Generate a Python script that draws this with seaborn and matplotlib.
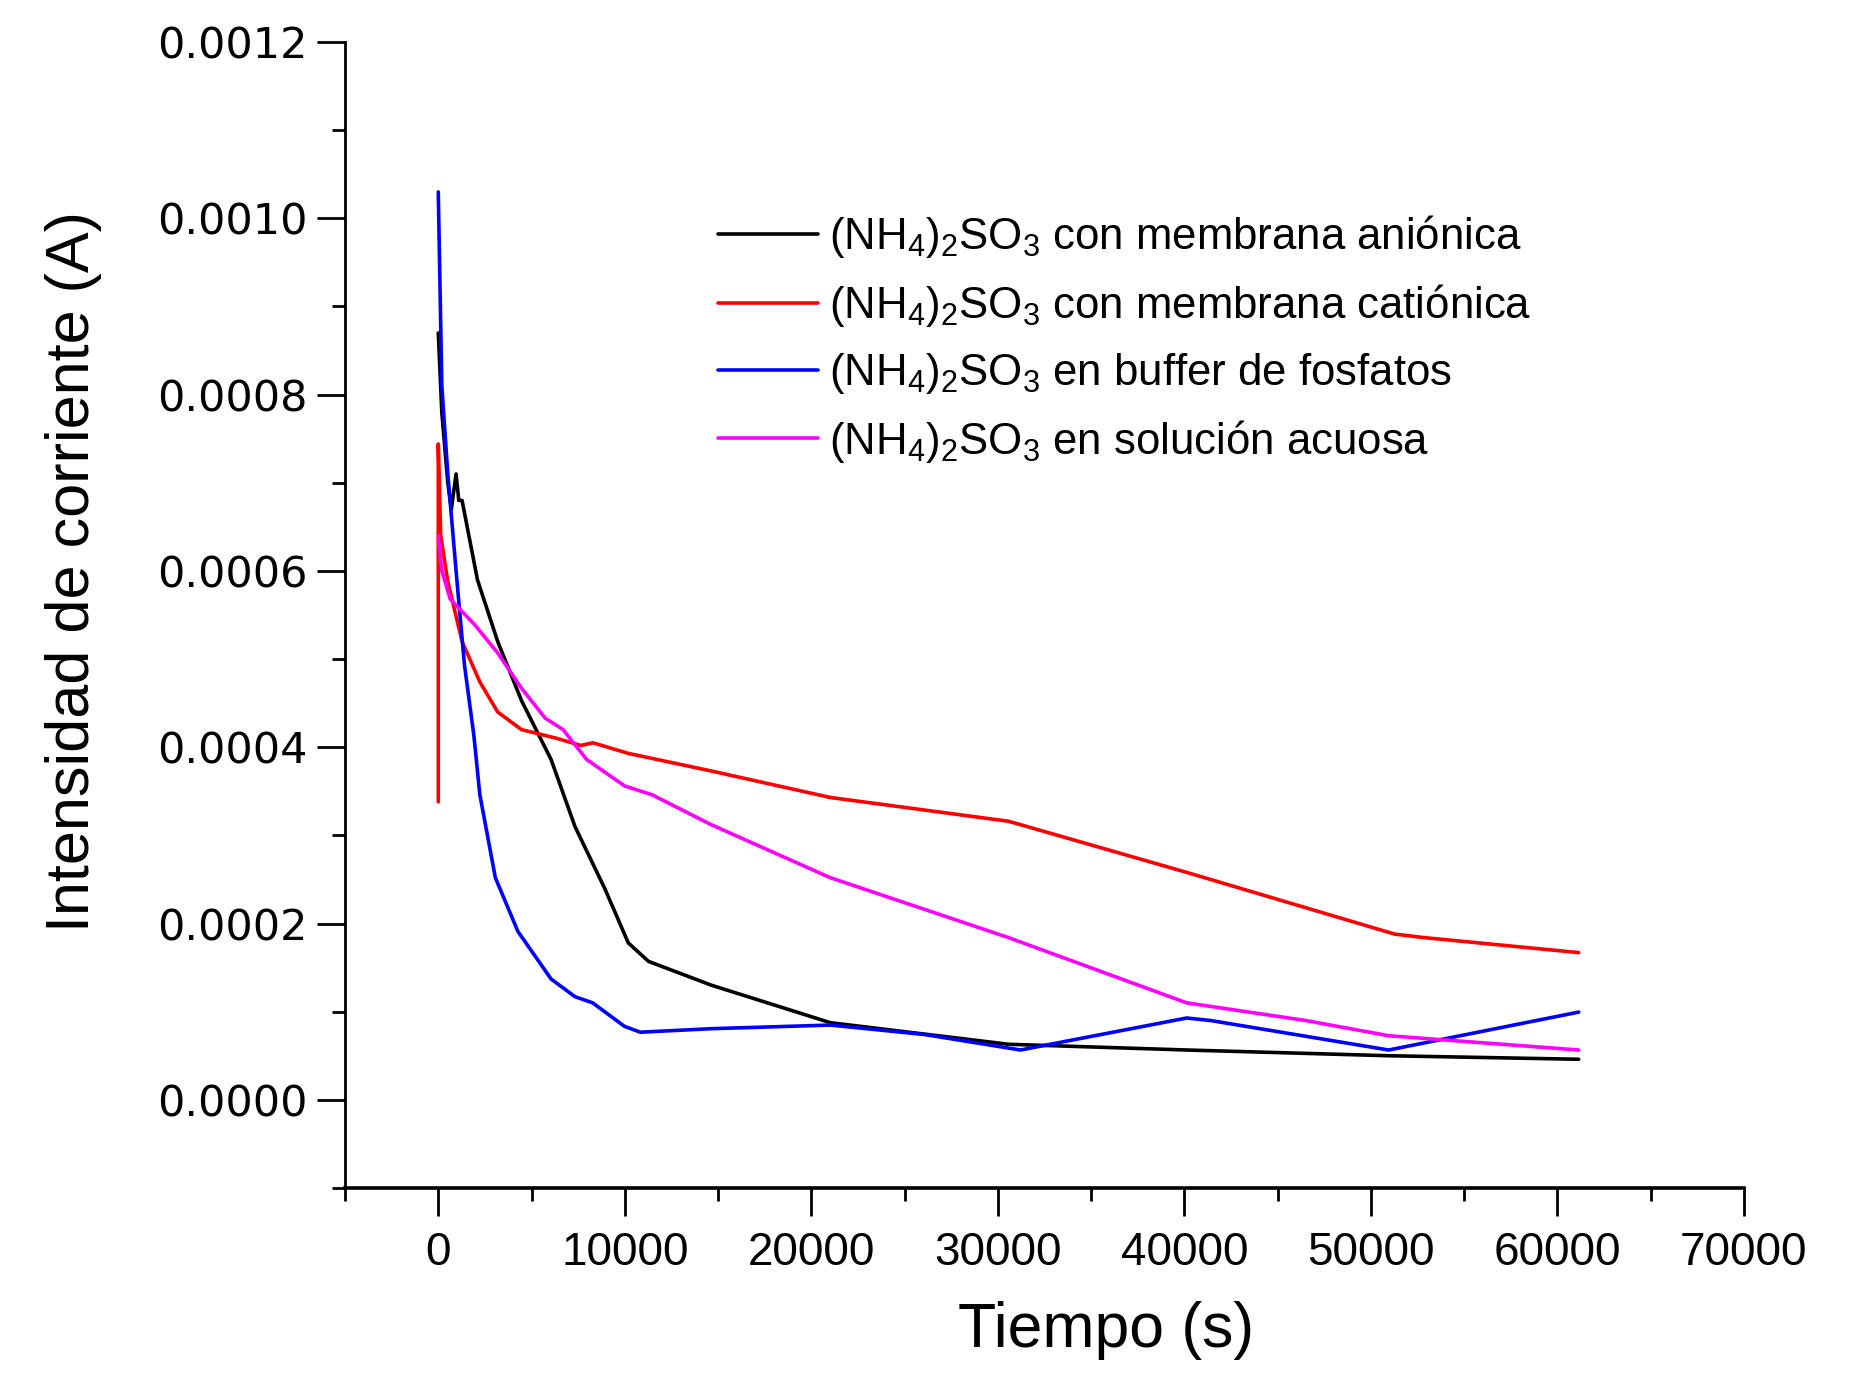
#import modules
import pandas as pd
import numpy as np
import seaborn as sns
import matplotlib.pyplot as plt
from matplotlib.ticker import MultipleLocator

sns.set_style("ticks")
plt.rcParams['font.family'] = ['Liberation Sans', 'DejaVu Sans']
plt.rcParams['mathtext.default'] = 'regular'
for key in ['text.color', 'axes.labelcolor', 'xtick.color', 'ytick.color', 'axes.edgecolor']:
    plt.rcParams[key] = 'black'

#Data (time in s, current in A)
t_anionica = [0, 190, 510, 700, 955, 1100, 1275, 2100, 3185, 4460, 6050, 7330, 8920,
              10190, 11275, 14650, 21020, 30580, 40130, 50960, 61150]
i_anionica = [0.00087, 0.00078, 0.00070, 0.00067, 0.00071, 0.00068, 0.00068, 0.00059, 0.00052,
              0.000453, 0.000386, 0.00031, 0.00024, 0.000178, 0.000157, 0.00013, 0.0000875,
              0.000063, 0.0000565, 0.00005, 0.000046]

t_cationica = [0, 0, 130, 510, 1275, 2230, 3185, 4460, 6370, 7640, 8300, 10190, 14650,
               21020, 30580, 40130, 46500, 51280, 52870, 61150]
i_cationica = [0.000338, 0.000744, 0.00064, 0.000588, 0.00052, 0.000474, 0.00044, 0.00042,
               0.00041, 0.000402, 0.000405, 0.000393, 0.000373, 0.000343, 0.000316, 0.000258,
               0.000218, 0.000188, 0.000184, 0.000167]

t_buffer = [0, 190, 510, 955, 1400, 1910, 2230, 3060, 4270, 6050, 7330, 8280, 9980, 10830,
            14650, 21020, 26100, 31220, 40130, 41400, 50960, 61150]
i_buffer = [0.00103, 0.00081, 0.00071, 0.0006, 0.000494, 0.000413, 0.000346, 0.000252,
            0.000191, 0.000137, 0.000117, 0.00011, 0.0000834, 0.0000767, 0.0000807, 0.0000848,
            0.000074, 0.0000565, 0.0000928, 0.00009, 0.0000565, 0.0000995]

t_acuosa = [0, 190, 640, 1275, 1910, 3185, 4460, 5730, 6690, 7960, 10000, 11470, 14650,
            21020, 30580, 40130, 46500, 50960, 61150]
i_acuosa = [0.00064, 0.0006, 0.000568, 0.000554, 0.00054, 0.000507, 0.000467, 0.000433,
            0.00042, 0.000386, 0.000356, 0.000346, 0.000312, 0.000252, 0.000184, 0.00011,
            0.00009, 0.0000727, 0.0000565]

labels = [r'(NH$_4$)$_2$SO$_3$ con membrana aniónica',
          r'(NH$_4$)$_2$SO$_3$ con membrana catiónica',
          r'(NH$_4$)$_2$SO$_3$ en buffer de fosfatos',
          r'(NH$_4$)$_2$SO$_3$ en solución acuosa']
colors = ['black', '#ff0000', '#0000ff', '#ff00ff']
series = [(t_anionica, i_anionica), (t_cationica, i_cationica),
          (t_buffer, i_buffer), (t_acuosa, i_acuosa)]

fig = plt.figure(figsize=(18.61, 13.74), dpi=100)
ax = fig.add_axes([0.1854, 0.1354, 0.7516, 0.834])

for (t, i), lab, col in zip(series, labels, colors):
    df = pd.DataFrame({"t": t, "i": i})
    sns.lineplot(data=df, x="t", y="i", ax=ax, color=col, label=lab,
                 estimator=None, sort=False, linewidth=2.6)

ax.set_xlim(-5000, 70000)
ax.set_ylim(-0.0001, 0.0012)
ax.xaxis.set_minor_locator(MultipleLocator(5000))
ax.yaxis.set_minor_locator(MultipleLocator(0.0001))
ax.set_xticks(np.arange(0, 70001, 10000))
ax.set_xticklabels([str(v) for v in range(0, 70001, 10000)])
ax.set_yticks(np.arange(0, 0.00121, 0.0002))
ax.set_yticklabels(["%.4f" % v for v in np.arange(0, 0.00121, 0.0002)])

for lbl in ax.get_xticklabels():
    lbl.set_family(['Liberation Sans', 'DejaVu Sans'])
    lbl.set_fontsize(33)
for lbl in ax.get_yticklabels():
    lbl.set_family(['DejaVu Sans'])
    lbl.set_fontsize(31)

ax.tick_params(axis='both', which='major', direction='out', length=20, width=2)
ax.tick_params(axis='both', which='minor', direction='out', length=9.5, width=2)
ax.tick_params(axis='x', which='major', pad=11)
ax.tick_params(axis='y', which='major', pad=7)

sns.despine(ax=ax)
ax.spines['left'].set_linewidth(2)
ax.spines['bottom'].set_linewidth(2.6)

ax.set_xlabel("Tiempo (s)", fontsize=45)
ax.xaxis.set_label_coords(0.544, -0.099)
ax.set_ylabel("Intensidad de corriente (A)", fontsize=44)
ax.yaxis.set_label_coords(-0.174, 0.538)

leg = ax.legend(loc='upper left', bbox_to_anchor=(0.254, 0.866), frameon=False,
                fontsize=31.5, handlelength=2.3, handletextpad=0.25, labelspacing=0.5,
                borderaxespad=0)
for line in leg.get_lines():
    line.set_linewidth(2.6)

plt.savefig("out.png", dpi=100)
plt.close()
